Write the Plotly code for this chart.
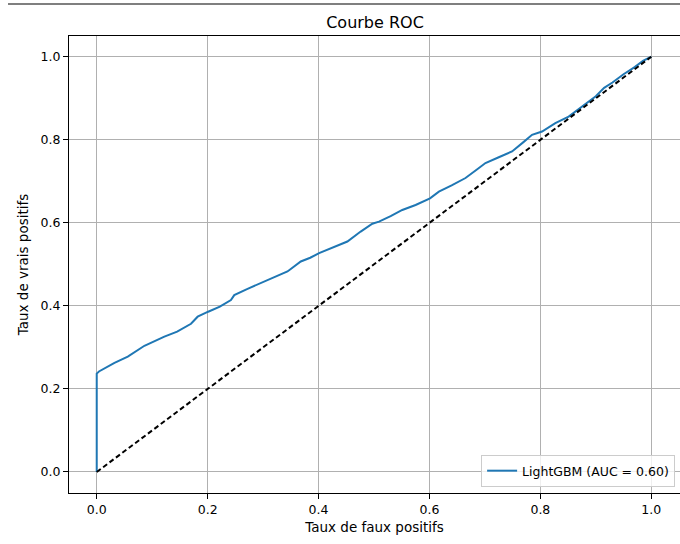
import plotly.graph_objects as go

fpr = [0, 0, 0, 0.004, 0.015,
       0.032, 0.056, 0.086, 0.122, 0.145,
       0.170, 0.182, 0.201, 0.222, 0.242,
       0.248, 0.270, 0.296, 0.320, 0.344,
       0.368, 0.385, 0.401, 0.425, 0.452,
       0.476, 0.497, 0.509, 0.530, 0.551,
       0.575, 0.601, 0.617, 0.640, 0.665,
       0.685, 0.701, 0.725, 0.749, 0.770,
       0.785, 0.803, 0.827, 0.851, 0.875,
       0.900, 0.915, 0.930, 0.950, 0.970,
       0.985, 1.000]
tpr = [0, 0.12, 0.237, 0.242, 0.250,
       0.263, 0.278, 0.304, 0.326, 0.338,
       0.357, 0.374, 0.386, 0.398, 0.414,
       0.426, 0.440, 0.455, 0.468, 0.483,
       0.507, 0.516, 0.527, 0.540, 0.555,
       0.579, 0.598, 0.603, 0.616, 0.631,
       0.643, 0.659, 0.675, 0.690, 0.708,
       0.728, 0.744, 0.758, 0.772, 0.795,
       0.812, 0.820, 0.840, 0.856, 0.880,
       0.905, 0.925, 0.938, 0.958, 0.975,
       0.990, 1.000]
diag_x = [0, 1]
diag_y = [0, 1]
auc = 0.60
ticks = [0, 0.2, 0.4, 0.6, 0.8, 1.0]

FONT = "DejaVu Sans"

fig = go.Figure()
fig.add_trace(go.Scatter(x=fpr, y=tpr, mode="lines",
                         line=dict(color="#1f77b4", width=2),
                         name=f"LightGBM (AUC = {auc:.2f})"))
fig.add_trace(go.Scatter(x=diag_x, y=diag_y, mode="lines",
                         line=dict(color="black", width=2, dash="5px,3px"),
                         showlegend=False))

axis_common = dict(
    tickvals=ticks, tickformat=".1f", ticks="outside", ticklen=5, tickwidth=1,
    tickcolor="black", showline=True, linecolor="black", linewidth=1,
    showgrid=True, gridcolor="#b0b0b0", gridwidth=1, zeroline=False,
    tickfont=dict(family=FONT, size=12.5, color="black"),
)

fig.update_layout(
    width=680, height=544,
    margin=dict(l=69, r=0, t=36, b=51),
    paper_bgcolor="white", plot_bgcolor="white",
    font=dict(family=FONT, color="black"),
    title=dict(text="Courbe ROC", x=375 / 680, xanchor="center",
               y=1 - 22 / 544, yanchor="middle",
               font=dict(family=FONT, size=16, color="black")),
    xaxis=dict(range=[-0.05, 1.0518], mirror=True,
               title=dict(text="Taux de faux positifs", standoff=6,
                          font=dict(family=FONT, size=13.5, color="black")),
               **axis_common),
    yaxis=dict(range=[-0.0506, 1.05],
               title=dict(text="Taux de vrais positifs", standoff=8,
                          font=dict(family=FONT, size=13.5, color="black")),
               **axis_common),
    legend=dict(x=0.992, y=0.013, xanchor="right", yanchor="bottom",
                bgcolor="rgba(255,255,255,0.8)", bordercolor="#cccccc",
                borderwidth=1, font=dict(family=FONT, size=12.5, color="black")),
    shapes=[dict(type="line", xref="paper", yref="paper",
                 x0=-0.0998, x1=1.0, y0=1.07, y1=1.07,
                 line=dict(color="#555555", width=1.5))],
)

fig.write_html("out.html", config={"displayModeBar": False},
               post_script="document.body.style.margin='0';document.body.style.overflow='hidden';")
